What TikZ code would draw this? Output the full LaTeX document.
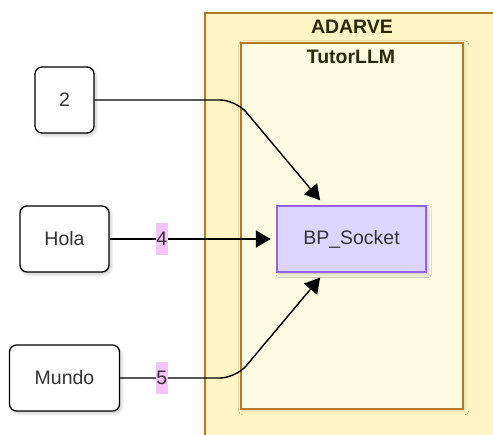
\documentclass[tikz,border=0pt]{standalone}
\usepackage{fontspec}
\setmainfont{Liberation Sans}
\usetikzlibrary{arrows.meta,calc,shadows.blur}

\definecolor{outerfill}{HTML}{FFF5C4}
\definecolor{innerfill}{HTML}{FEFBE2}
\definecolor{groupline}{HTML}{B47A2A}
\definecolor{titletext}{HTML}{2A2A0A}
\definecolor{nodetext}{HTML}{333333}
\definecolor{sockfill}{HTML}{DCD6FF}
\definecolor{sockline}{HTML}{9263EE}
\definecolor{tagfill}{HTML}{F6C3FA}

\tikzset{
  softshadow/.style={blur shadow={shadow xshift=2pt, shadow yshift=-2.5pt,
      shadow blur steps=8, shadow blur radius=3pt, shadow opacity=20}},
  groupbox/.style={draw=groupline, line width=1.6pt, anchor=north west,
      inner sep=0pt},
  grouptitle/.style={font=\fontsize{19.5}{22}\selectfont\bfseries,
      text=titletext, inner sep=0pt},
  valuebox/.style={draw=black, line width=1.3pt, fill=white, rounded corners=7pt,
      minimum height=66pt, font=\fontsize{19.5}{22}\selectfont, text=nodetext,
      softshadow},
  sockbox/.style={draw=sockline, line width=1.4pt, fill=sockfill,
      minimum width=149pt, minimum height=66pt,
      font=\fontsize{19.5}{22}\selectfont, text=nodetext, softshadow},
  conn/.style={draw=black, line width=1.4pt,
      -{Triangle[length=15pt,width=17pt]}},
  tag/.style={fill=tagfill, inner xsep=0.5pt, inner ysep=0pt,
      minimum height=32pt, font=\fontsize{19.5}{22}\selectfont, text=nodetext},
}

\begin{document}
\begin{tikzpicture}[x=1pt,y=-1pt]
  \useasboundingbox (0,0) rectangle (493,435);
  \clip (0,0) rectangle (493,435);

  % containers
  \node[groupbox, fill=outerfill, minimum width=320pt, minimum height=450pt]
    (adarve) at (204,12) {};
  \node[grouptitle] (adarvetitle) at (352,27) {ADARVE};
  \node[groupbox, fill=innerfill, minimum width=222pt, minimum height=366pt,
    blur shadow={shadow xshift=2pt, shadow yshift=-2pt, shadow blur steps=10,
      shadow blur radius=4pt, shadow opacity=14}]
    (tutor) at (240,42) {};
  \node[grouptitle] (tutortitle) at (351,57) {TutorLLM};

  % inputs and target
  \node[valuebox, minimum width=59pt]  (two)   at (64.5,100) {2};
  \node[valuebox, minimum width=89pt]  (hola)  at (64.5,239) {Hola};
  \node[valuebox, minimum width=110pt] (mundo) at (64.5,378) {Mundo};
  \node[sockbox] (bp) at (351.5,239) {BP\_Socket};

  % bends of the outer connectors
  \coordinate (bendtop) at (236,100);
  \coordinate (bendbot) at (236,378);

  % connectors
  \draw[conn, rounded corners=16pt, shorten >=6.5pt]
    (two.east) -- (bendtop) -- ($(bp.north west)+(48,0)$);
  \draw[conn, shorten >=5.5pt] (hola.east) -- (bp.west);
  \draw[conn, rounded corners=16pt, shorten >=6.5pt]
    (mundo.east) -- (bendbot) -- ($(bp.south west)+(48,0)$);

  % connector tags
  \node[tag] (tag4) at (161.7,239) {4};
  \node[tag] (tag5) at (161.7,378) {5};
\end{tikzpicture}
\end{document}
